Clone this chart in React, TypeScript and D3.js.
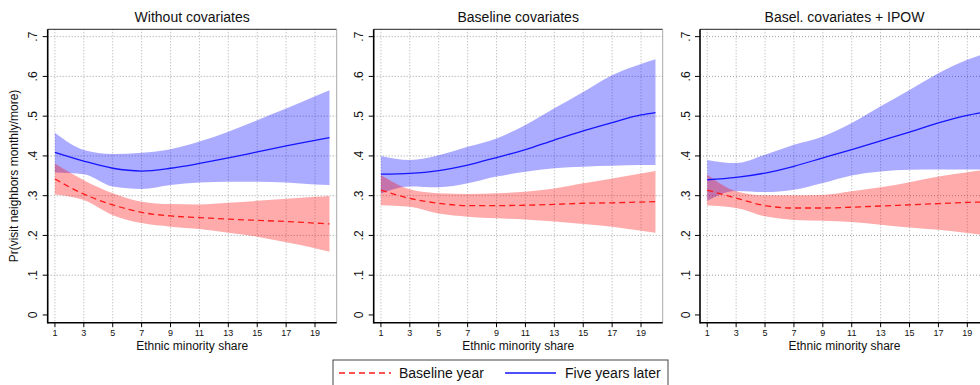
import React from 'react'
import { scaleLinear, area, line, curveMonotoneX } from 'd3'

const shares = [1, 3, 5, 7, 9, 11, 13, 15, 17, 19, 20]
const xTicks = [1, 3, 5, 7, 9, 11, 13, 15, 17, 19]
const yTicks = [0, 0.1, 0.2, 0.3, 0.4, 0.5, 0.6, 0.7]
const yTickLabels = ['0', '.1', '.2', '.3', '.4', '.5', '.6', '.7']
const panelTitles = ['Without covariates', 'Baseline covariates', 'Basel. covariates + IPOW']
const legendLabels = ['Baseline year', 'Five years later']

// panel 1: without covariates
const p1BaseFit = [0.342, 0.304, 0.277, 0.258, 0.249, 0.245, 0.241, 0.238, 0.235, 0.231, 0.229]
const p1BaseLo = [0.303, 0.289, 0.251, 0.231, 0.222, 0.216, 0.207, 0.197, 0.183, 0.168, 0.159]
const p1BaseHi = [0.381, 0.339, 0.306, 0.285, 0.279, 0.278, 0.282, 0.287, 0.292, 0.297, 0.299]
const p1LaterFit = [0.409, 0.387, 0.369, 0.362, 0.369, 0.381, 0.395, 0.41, 0.425, 0.439, 0.446]
const p1LaterLo = [0.358, 0.354, 0.323, 0.317, 0.327, 0.333, 0.335, 0.335, 0.333, 0.328, 0.327]
const p1LaterHi = [0.458, 0.415, 0.405, 0.408, 0.417, 0.436, 0.461, 0.49, 0.519, 0.55, 0.565]

// panel 2: baseline covariates
const p2BaseFit = [0.314, 0.293, 0.281, 0.275, 0.275, 0.276, 0.278, 0.281, 0.282, 0.284, 0.285]
const p2BaseLo = [0.276, 0.272, 0.255, 0.247, 0.243, 0.24, 0.235, 0.229, 0.222, 0.212, 0.207]
const p2BaseHi = [0.352, 0.316, 0.306, 0.304, 0.306, 0.31, 0.318, 0.331, 0.343, 0.356, 0.362]
const p2LaterFit = [0.354, 0.356, 0.363, 0.377, 0.396, 0.416, 0.44, 0.463, 0.484, 0.503, 0.509]
const p2LaterLo = [0.305, 0.323, 0.321, 0.331, 0.348, 0.36, 0.369, 0.373, 0.375, 0.377, 0.377]
const p2LaterHi = [0.4, 0.39, 0.402, 0.423, 0.444, 0.478, 0.52, 0.561, 0.603, 0.631, 0.643]

// panel 3: baseline covariates + IPOW
const p3BaseFit = [0.314, 0.294, 0.275, 0.269, 0.269, 0.271, 0.274, 0.277, 0.28, 0.283, 0.284]
const p3BaseLo = [0.275, 0.269, 0.248, 0.239, 0.237, 0.234, 0.227, 0.22, 0.214, 0.206, 0.202]
const p3BaseHi = [0.353, 0.311, 0.301, 0.301, 0.302, 0.311, 0.321, 0.334, 0.348, 0.359, 0.364]
const p3LaterFit = [0.34, 0.346, 0.357, 0.374, 0.395, 0.416, 0.438, 0.46, 0.483, 0.502, 0.509]
const p3LaterLo = [0.287, 0.312, 0.309, 0.315, 0.332, 0.351, 0.361, 0.365, 0.366, 0.366, 0.366]
const p3LaterHi = [0.39, 0.382, 0.403, 0.428, 0.449, 0.483, 0.525, 0.566, 0.608, 0.642, 0.655]

const panels = [
  { base: [p1BaseLo, p1BaseFit, p1BaseHi], later: [p1LaterLo, p1LaterFit, p1LaterHi] },
  { base: [p2BaseLo, p2BaseFit, p2BaseHi], later: [p2LaterLo, p2LaterFit, p2LaterHi] },
  { base: [p3BaseLo, p3BaseFit, p3BaseHi], later: [p3LaterLo, p3LaterFit, p3LaterHi] },
]

const font = 'Arial, "Liberation Sans", Helvetica, sans-serif'
const panelLefts = [47.7, 373.7, 700]
const plotW = 289
const top = 29.3
const bottom = 322.7

const Panel = ({ idx }: { idx: number }) => {
  const left = panelLefts[idx]
  const p = panels[idx]
  const x = scaleLinear().domain([0.5, 20.5]).range([0, plotW])
  const y = scaleLinear().domain([-0.0195, 0.7185]).range([bottom - top, 0])
  const h = bottom - top

  const band = (lo: number[], hi: number[]) =>
    area<number>()
      .x((d) => x(d))
      .y0((d, i) => y(lo[i]))
      .y1((d, i) => y(hi[i]))
      .curve(curveMonotoneX)(shares) as string
  const fit = (v: number[]) =>
    line<number>()
      .x((d) => x(d))
      .y((d, i) => y(v[i]))
      .curve(curveMonotoneX)(shares) as string

  return (
    <g transform={`translate(${left},${top})`}>
      <text x={plotW / 2} y={-7.5} textAnchor="middle" fontSize={14} fill="#111">
        {panelTitles[idx]}
      </text>
      {/* grid */}
      {yTicks.slice(1).map((t) => (
        <line key={'gy' + t} x1={0} x2={plotW} y1={y(t)} y2={y(t)} stroke="#888" strokeWidth={0.8} strokeDasharray="1,2" />
      ))}
      {xTicks.map((t) => (
        <line key={'gx' + t} x1={x(t)} x2={x(t)} y1={0} y2={h} stroke="#999" strokeWidth={0.8} strokeDasharray="1,2" />
      ))}
      {/* bands */}
      <path d={band(p.later[0], p.later[2])} fill="#0000ff" fillOpacity={0.33} />
      <path d={band(p.base[0], p.base[2])} fill="#ff0000" fillOpacity={0.33} />
      <path d={fit(p.later[1])} fill="none" stroke="#1515ff" strokeWidth={1.3} />
      <path d={fit(p.base[1])} fill="none" stroke="#ff1a1a" strokeWidth={1.3} strokeDasharray="6,4" />
      {/* frame */}
      <line x1={0} x2={plotW} y1={0} y2={0} stroke="#222" strokeWidth={1} />
      <line x1={plotW} x2={plotW} y1={0} y2={h} stroke="#aaa" strokeWidth={1} />
      <line x1={0} x2={0} y1={0} y2={h + 0.8} stroke="#000" strokeWidth={1.6} />
      <line x1={0} x2={plotW} y1={h} y2={h} stroke="#000" strokeWidth={1.6} />
      {/* y axis */}
      {yTicks.map((t, i) => (
        <g key={'yt' + t} transform={`translate(0,${y(t)})`}>
          <line x1={-5} x2={0} stroke="#000" strokeWidth={1} />
          <text transform="translate(-10.5,0) rotate(-90)" textAnchor="middle" fontSize={12} fill="#111">
            {yTickLabels[i]}
          </text>
        </g>
      ))}
      {/* x axis */}
      {xTicks.map((t) => (
        <g key={'xt' + t} transform={`translate(${x(t)},${h})`}>
          <line y1={0} y2={4.5} stroke="#000" strokeWidth={1} />
          <text y={13.5} textAnchor="middle" fontSize={9} fill="#111">
            {t}
          </text>
        </g>
      ))}
      <text x={plotW / 2} y={h + 27} textAnchor="middle" fontSize={12} fill="#111">
        Ethnic minority share
      </text>
    </g>
  )
}

const App = () => {
  return (
    <svg
      width={980}
      height={385}
      style={{ position: 'absolute', left: 0, top: 0, background: '#fff', fontFamily: font }}
    >
      <rect width={980} height={385} fill="#fff" />
      <text transform={`translate(18,${(top + bottom) / 2}) rotate(-90)`} textAnchor="middle" fontSize={12} fill="#111">
        Pr(visit neighbors monthly/more)
      </text>
      {panels.map((_, i) => (
        <Panel key={i} idx={i} />
      ))}
      {/* legend */}
      <g>
        <rect x={333} y={360} width={335} height={30} fill="#fff" stroke="#444" strokeWidth={1} />
        <line x1={339} x2={391} y1={373} y2={373} stroke="#ff1a1a" strokeWidth={1.3} strokeDasharray="6,4" />
        <text x={399} y={378} fontSize={14} fill="#111">
          {legendLabels[0]}
        </text>
        <line x1={505} x2={556} y1={373} y2={373} stroke="#1515ff" strokeWidth={1.3} />
        <text x={565} y={378} fontSize={14} fill="#111">
          {legendLabels[1]}
        </text>
      </g>
    </svg>
  )
}

export default App
